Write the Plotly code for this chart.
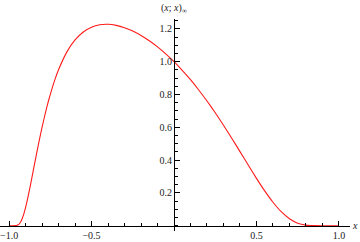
import plotly.graph_objects as go

# (x; x)_inf
x_vals = [-1.00, -0.98, -0.96, -0.95, -0.94, -0.93, -0.92, -0.91, -0.90, -0.89,
          -0.88, -0.87, -0.86, -0.85, -0.84, -0.82, -0.80, -0.78, -0.76, -0.74,
          -0.72, -0.70, -0.65, -0.60, -0.55, -0.50, -0.45, -0.40, -0.35, -0.30,
          -0.25, -0.20, -0.15, -0.10, -0.05, 0.00, 0.05, 0.10, 0.15, 0.20,
          0.25, 0.30, 0.35, 0.40, 0.45, 0.50, 0.55, 0.60, 0.65, 0.70,
          0.75, 0.80, 0.85, 0.90, 0.95, 1.00]
y_vals = [0.0, 0.0, 0.0004, 0.0026, 0.0093, 0.0228, 0.0444, 0.0740, 0.1107, 0.1530,
          0.1998, 0.2493, 0.3006, 0.3523, 0.4043, 0.5051, 0.5997, 0.6866, 0.7649, 0.8347,
          0.8966, 0.9510, 1.0585, 1.1326, 1.1814, 1.2107, 1.2252, 1.2281, 1.2215, 1.2073,
          1.1865, 1.1597, 1.1274, 1.0900, 1.0475, 1.0, 0.9475, 0.8901, 0.8276, 0.7604,
          0.6886, 0.6127, 0.5335, 0.4519, 0.3698, 0.2888, 0.2122, 0.1430, 0.0853, 0.0423,
          0.0155, 0.0034, 0.0003, 0.0, 0.0, 0.0]

x_tickvals = [-1.0, -0.5, 0.5, 1.0]
x_ticktext = ["\u22121.0", "\u22120.5", "0.5", "1.0"]
y_tickvals = [0.2, 0.4, 0.6, 0.8, 1.0, 1.2]
y_ticktext = ["0.2", "0.4", "0.6", "0.8", "1.0", "1.2"]

W, H = 360, 242
# pixel geometry
px_x0, px_unit_x = 174.0, 164.95
px_y0, px_unit_y = 225.7, 164.0
ax_left, ax_right = 0.0, 350.0
ax_top, ax_bottom = 18.5, 231.0

xr = [(ax_left - px_x0) / px_unit_x, (ax_right - px_x0) / px_unit_x]
yr = [(px_y0 - ax_bottom) / px_unit_y, (px_y0 - ax_top) / px_unit_y]

font = dict(family="Liberation Serif, Times New Roman, serif", size=10, color="#222222")

fig = go.Figure()
fig.add_trace(go.Scatter(x=x_vals, y=y_vals, mode="lines",
                         line=dict(color="#ff1a1a", width=1.1, shape="spline", smoothing=0.5),
                         hoverinfo="skip", showlegend=False))

fig.update_layout(
    width=W, height=H,
    margin=dict(l=0, r=0, t=0, b=0),
    paper_bgcolor="white", plot_bgcolor="white",
    xaxis=dict(range=xr, domain=[ax_left / W, ax_right / W], anchor="free",
               position=(H - px_y0) / H,
               showline=True, linecolor="black", linewidth=1,
               showgrid=False, zeroline=False,
               tickmode="array", tickvals=x_tickvals, ticktext=x_ticktext,
               ticks="inside", ticklen=5, tickcolor="black", tickwidth=1,
               tickfont=font, ticklabeloverflow="allow",
               minor=dict(tickmode="linear", tick0=0, dtick=0.1, ticks="inside",
                          ticklen=2.5, tickcolor="black", showgrid=False)),
    yaxis=dict(range=yr, domain=[(H - ax_bottom) / H, (H - ax_top) / H], anchor="free",
               position=px_x0 / W,
               showline=True, linecolor="black", linewidth=1,
               showgrid=False, zeroline=False,
               tickmode="array", tickvals=y_tickvals, ticktext=y_ticktext,
               ticks="inside", ticklen=5, tickcolor="black", tickwidth=1,
               tickfont=font, ticklabeloverflow="allow",
               minor=dict(tickmode="linear", tick0=0, dtick=0.05, ticks="inside",
                          ticklen=2.5, tickcolor="black", showgrid=False)),
    annotations=[
        dict(text="(<i>x</i>; <i>x</i>)<sub>\u221e</sub>", xref="paper", yref="paper",
             x=px_x0 / W, y=(H - 8) / H, xanchor="center", yanchor="middle",
             showarrow=False, font=font),
        dict(text="<i>x</i>", xref="paper", yref="paper",
             x=355 / W, y=(H - px_y0) / H, xanchor="center", yanchor="middle",
             showarrow=False, font=font),
    ],
)

fig.write_html("out.html")
